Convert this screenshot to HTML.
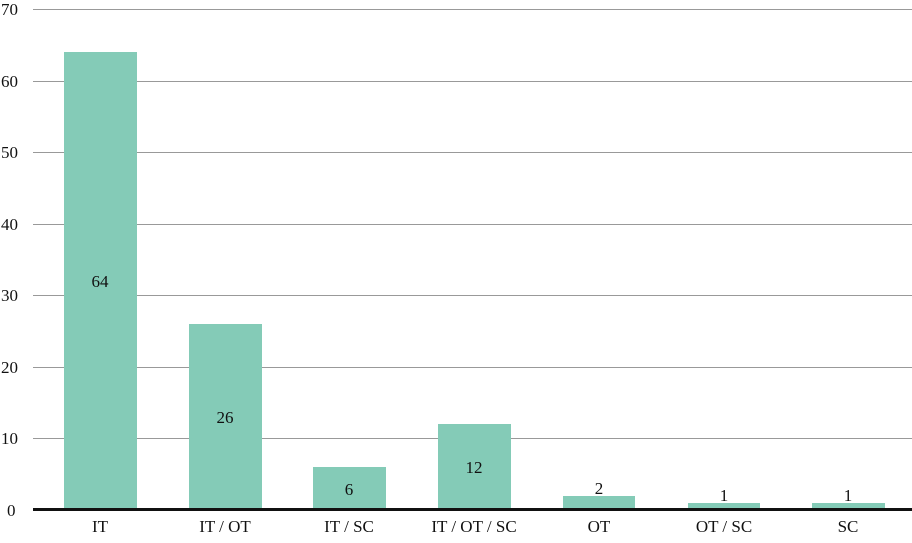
<!DOCTYPE html><html><head><style>body{margin:0;background:#fff}</style></head><body>
<svg width="912" height="538" xmlns="http://www.w3.org/2000/svg" font-family="Liberation Serif, serif" font-size="17" fill="#111">
<g stroke="#999" stroke-width="1">
<line x1="33" x2="912" y1="9.5" y2="9.5"/><line x1="33" x2="912" y1="81.5" y2="81.5"/><line x1="33" x2="912" y1="152.5" y2="152.5"/><line x1="33" x2="912" y1="224.5" y2="224.5"/><line x1="33" x2="912" y1="295.5" y2="295.5"/><line x1="33" x2="912" y1="367.5" y2="367.5"/><line x1="33" x2="912" y1="438.5" y2="438.5"/>
</g>
<g fill="#84cbb7">
<rect x="64" y="52" width="73" height="457"/><rect x="189" y="324" width="73" height="185"/><rect x="313" y="467" width="73" height="42"/><rect x="438" y="424" width="73" height="85"/><rect x="563" y="496" width="72" height="13"/><rect x="688" y="503" width="72" height="6"/><rect x="812" y="503" width="73" height="6"/>
</g>
<line x1="33" x2="912" y1="509.5" y2="509.5" stroke="#111" stroke-width="3"/>
<g text-anchor="start"><text x="1" y="15">70</text><text x="1" y="87">60</text><text x="1" y="158">50</text><text x="1" y="230">40</text><text x="1" y="301">30</text><text x="1" y="373">20</text><text x="1" y="444">10</text><text x="7" y="516">0</text></g>
<g text-anchor="middle">
<text x="100" y="287">64</text><text x="225" y="423">26</text><text x="349" y="495">6</text><text x="474" y="473">12</text><text x="599" y="494">2</text><text x="724" y="501">1</text><text x="848" y="501">1</text>
<text x="100" y="532">IT</text><text x="225" y="532">IT / OT</text><text x="349" y="532">IT / SC</text><text x="474" y="532">IT / OT / SC</text><text x="599" y="532">OT</text><text x="724" y="532">OT / SC</text><text x="848" y="532">SC</text>
</g>
</svg></body></html>
